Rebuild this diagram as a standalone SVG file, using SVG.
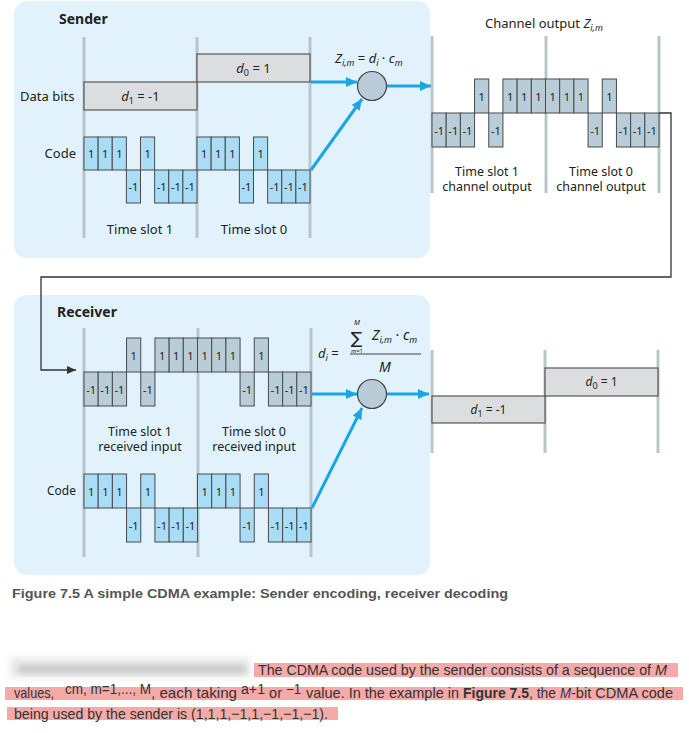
<svg xmlns="http://www.w3.org/2000/svg" width="689" height="733" viewBox="0 0 689 733">
<style>
.panel{fill:#e1f2fc}
.vl{stroke:#bac4cb;stroke-width:3}
.chip{fill:#a9dcf5;stroke:#4a4a4a;stroke-width:1}
.gchip{fill:#b8cdd8;stroke:#4a4a4a;stroke-width:1}
.dbox{fill:#dcdddf;stroke:#555;stroke-width:1.2}
.cl{font-family:"Noto Sans","Open Sans",sans-serif;font-size:11px;text-anchor:middle;fill:#222}
.lb{font-family:"Noto Sans","Open Sans",sans-serif;font-size:13px;fill:#222}
.lbm{font-family:"Noto Sans","Open Sans",sans-serif;font-size:13px;fill:#222;text-anchor:middle}
.ts{font-family:"Noto Sans","Open Sans",sans-serif;font-size:12.5px;fill:#222;text-anchor:middle}
.ttl{font-family:"Noto Sans","Open Sans",sans-serif;font-size:14px;font-weight:bold;fill:#222}
.it{font-style:italic}
.sub{font-size:9px}
.blue{stroke:#1aa6e6;stroke-width:3;fill:none}
.body{font-family:"Liberation Sans",Arial,sans-serif;font-size:15px;fill:#333}
.sup{font-family:"Liberation Sans",Arial,sans-serif;font-size:14px;fill:#333}
.hl{fill:#f6a9a9}
</style>
<defs>
<marker id="ab" markerUnits="userSpaceOnUse" markerWidth="11" markerHeight="10" refX="11" refY="5" orient="auto">
<path d="M0,0 L11,5 L0,10 z" fill="#1aa6e6"/>
</marker>
<marker id="ak" markerUnits="userSpaceOnUse" markerWidth="9" markerHeight="8" refX="9" refY="4" orient="auto">
<path d="M0,0 L9,4 L0,8 z" fill="#333"/>
</marker>
<filter id="bl" x="-10%" y="-50%" width="120%" height="200%"><feGaussianBlur stdDeviation="3"/></filter>
</defs>

<g id="sender">
<rect class="panel" x="14" y="1" width="416" height="257" rx="13"/>
<text class="ttl" x="59" y="24">Sender</text>
<line class="vl" x1="84" y1="37" x2="84" y2="238"/>
<line class="vl" x1="197" y1="37" x2="197" y2="238"/>
<line class="vl" x1="310" y1="37" x2="310" y2="238"/>
<text class="lb" x="20" y="101">Data bits</text>
<rect class="dbox" x="84" y="82" width="113" height="28"/>
<text class="lbm" x="140.5" y="101"><tspan class="it">d</tspan><tspan class="sub" dy="3">1</tspan><tspan dy="-3"> = -1</tspan></text>
<rect class="dbox" x="197" y="54" width="113" height="28"/>
<text class="lbm" x="253.5" y="73"><tspan class="it">d</tspan><tspan class="sub" dy="3">0</tspan><tspan dy="-3"> = 1</tspan></text>
<text class="lb" x="76" y="158" text-anchor="end">Code</text>
<rect class="chip" x="84" y="137" width="14.125" height="33"/>
<rect class="chip" x="98.125" y="137" width="14.125" height="33"/>
<rect class="chip" x="112.25" y="137" width="14.125" height="33"/>
<rect class="chip" x="126.375" y="170" width="14.125" height="33"/>
<rect class="chip" x="140.5" y="137" width="14.125" height="33"/>
<rect class="chip" x="154.625" y="170" width="14.125" height="33"/>
<rect class="chip" x="168.75" y="170" width="14.125" height="33"/>
<rect class="chip" x="182.875" y="170" width="14.125" height="33"/>
<rect class="chip" x="197" y="137" width="14.125" height="33"/>
<rect class="chip" x="211.125" y="137" width="14.125" height="33"/>
<rect class="chip" x="225.25" y="137" width="14.125" height="33"/>
<rect class="chip" x="239.375" y="170" width="14.125" height="33"/>
<rect class="chip" x="253.5" y="137" width="14.125" height="33"/>
<rect class="chip" x="267.625" y="170" width="14.125" height="33"/>
<rect class="chip" x="281.75" y="170" width="14.125" height="33"/>
<rect class="chip" x="295.875" y="170" width="14.125" height="33"/>
<text class="cl" x="91.06" y="158">1</text>
<text class="cl" x="105.19" y="158">1</text>
<text class="cl" x="119.31" y="158">1</text>
<text class="cl" x="133.44" y="191">-1</text>
<text class="cl" x="147.56" y="158">1</text>
<text class="cl" x="161.69" y="191">-1</text>
<text class="cl" x="175.81" y="191">-1</text>
<text class="cl" x="189.94" y="191">-1</text>
<text class="cl" x="204.06" y="158">1</text>
<text class="cl" x="218.19" y="158">1</text>
<text class="cl" x="232.31" y="158">1</text>
<text class="cl" x="246.44" y="191">-1</text>
<text class="cl" x="260.56" y="158">1</text>
<text class="cl" x="274.69" y="191">-1</text>
<text class="cl" x="288.81" y="191">-1</text>
<text class="cl" x="302.94" y="191">-1</text>
<text class="lbm" x="140" y="234">Time slot 1</text>
<text class="lbm" x="254" y="234">Time slot 0</text>
<text class="lb" x="335" y="63"><tspan class="it">Z</tspan><tspan class="sub it" dy="3">i,m</tspan><tspan dy="-3"> = </tspan><tspan class="it">d</tspan><tspan class="sub it" dy="3">i</tspan><tspan dy="-3"> · </tspan><tspan class="it">c</tspan><tspan class="sub it" dy="3">m</tspan></text>
<circle cx="372" cy="86" r="14.5" fill="#b8cdd8" stroke="#444" stroke-width="1.2"/>
</g>

<g id="channel-output">
<text class="lb" x="485" y="28">Channel output <tspan class="it">Z</tspan><tspan class="sub it" dy="3">i,m</tspan></text>
<line class="vl" x1="432" y1="36" x2="432" y2="193"/>
<line class="vl" x1="546" y1="36" x2="546" y2="193"/>
<line class="vl" x1="659" y1="36" x2="659" y2="193"/>
<rect class="gchip" x="432" y="113" width="14.19" height="34"/>
<rect class="gchip" x="446.19" y="113" width="14.19" height="34"/>
<rect class="gchip" x="460.38" y="113" width="14.19" height="34"/>
<rect class="gchip" x="474.56" y="79" width="14.19" height="34"/>
<rect class="gchip" x="488.75" y="113" width="14.19" height="34"/>
<rect class="gchip" x="502.94" y="79" width="14.19" height="34"/>
<rect class="gchip" x="517.13" y="79" width="14.19" height="34"/>
<rect class="gchip" x="531.31" y="79" width="14.19" height="34"/>
<rect class="gchip" x="545.5" y="79" width="14.19" height="34"/>
<rect class="gchip" x="559.69" y="79" width="14.19" height="34"/>
<rect class="gchip" x="573.88" y="79" width="14.19" height="34"/>
<rect class="gchip" x="588.06" y="113" width="14.19" height="34"/>
<rect class="gchip" x="602.25" y="79" width="14.19" height="34"/>
<rect class="gchip" x="616.44" y="113" width="14.19" height="34"/>
<rect class="gchip" x="630.63" y="113" width="14.19" height="34"/>
<rect class="gchip" x="644.81" y="113" width="14.19" height="34"/>
<text class="cl" x="439.09" y="134.5">-1</text>
<text class="cl" x="453.28" y="134.5">-1</text>
<text class="cl" x="467.47" y="134.5">-1</text>
<text class="cl" x="481.66" y="100.5">1</text>
<text class="cl" x="495.84" y="134.5">-1</text>
<text class="cl" x="510.03" y="100.5">1</text>
<text class="cl" x="524.22" y="100.5">1</text>
<text class="cl" x="538.41" y="100.5">1</text>
<text class="cl" x="552.59" y="100.5">1</text>
<text class="cl" x="566.78" y="100.5">1</text>
<text class="cl" x="580.97" y="100.5">1</text>
<text class="cl" x="595.16" y="134.5">-1</text>
<text class="cl" x="609.34" y="100.5">1</text>
<text class="cl" x="623.53" y="134.5">-1</text>
<text class="cl" x="637.72" y="134.5">-1</text>
<text class="cl" x="651.91" y="134.5">-1</text>
<text class="ts" x="487" y="176">Time slot 1</text>
<text class="ts" x="487" y="191">channel output</text>
<text class="ts" x="601" y="176">Time slot 0</text>
<text class="ts" x="601" y="191">channel output</text>
</g>

<g id="receiver">
<rect class="panel" x="14" y="295" width="416" height="280" rx="13"/>
<text class="ttl" x="57" y="317">Receiver</text>
<line class="vl" x1="84" y1="328" x2="84" y2="557"/>
<line class="vl" x1="198" y1="328" x2="198" y2="557"/>
<line class="vl" x1="311" y1="328" x2="311" y2="557"/>
<rect class="gchip" x="84" y="372" width="14.19" height="34"/>
<rect class="gchip" x="98.19" y="372" width="14.19" height="34"/>
<rect class="gchip" x="112.38" y="372" width="14.19" height="34"/>
<rect class="gchip" x="126.56" y="338" width="14.19" height="34"/>
<rect class="gchip" x="140.75" y="372" width="14.19" height="34"/>
<rect class="gchip" x="154.94" y="338" width="14.19" height="34"/>
<rect class="gchip" x="169.13" y="338" width="14.19" height="34"/>
<rect class="gchip" x="183.31" y="338" width="14.19" height="34"/>
<rect class="gchip" x="197.5" y="338" width="14.19" height="34"/>
<rect class="gchip" x="211.69" y="338" width="14.19" height="34"/>
<rect class="gchip" x="225.88" y="338" width="14.19" height="34"/>
<rect class="gchip" x="240.06" y="372" width="14.19" height="34"/>
<rect class="gchip" x="254.25" y="338" width="14.19" height="34"/>
<rect class="gchip" x="268.44" y="372" width="14.19" height="34"/>
<rect class="gchip" x="282.63" y="372" width="14.19" height="34"/>
<rect class="gchip" x="296.81" y="372" width="14.19" height="34"/>
<text class="cl" x="91.09" y="393.5">-1</text>
<text class="cl" x="105.28" y="393.5">-1</text>
<text class="cl" x="119.47" y="393.5">-1</text>
<text class="cl" x="133.66" y="359.5">1</text>
<text class="cl" x="147.84" y="393.5">-1</text>
<text class="cl" x="162.03" y="359.5">1</text>
<text class="cl" x="176.22" y="359.5">1</text>
<text class="cl" x="190.41" y="359.5">1</text>
<text class="cl" x="204.59" y="359.5">1</text>
<text class="cl" x="218.78" y="359.5">1</text>
<text class="cl" x="232.97" y="359.5">1</text>
<text class="cl" x="247.16" y="393.5">-1</text>
<text class="cl" x="261.34" y="359.5">1</text>
<text class="cl" x="275.53" y="393.5">-1</text>
<text class="cl" x="289.72" y="393.5">-1</text>
<text class="cl" x="303.91" y="393.5">-1</text>
<text class="ts" x="140" y="436">Time slot 1</text>
<text class="ts" x="140" y="451">received input</text>
<text class="ts" x="254" y="436">Time slot 0</text>
<text class="ts" x="254" y="451">received input</text>
<text class="lb" x="76" y="495" text-anchor="end" style="font-size:12px">Code</text>
<rect class="chip" x="84" y="474" width="14.19" height="34"/>
<rect class="chip" x="98.19" y="474" width="14.19" height="34"/>
<rect class="chip" x="112.38" y="474" width="14.19" height="34"/>
<rect class="chip" x="126.56" y="508" width="14.19" height="34"/>
<rect class="chip" x="140.75" y="474" width="14.19" height="34"/>
<rect class="chip" x="154.94" y="508" width="14.19" height="34"/>
<rect class="chip" x="169.13" y="508" width="14.19" height="34"/>
<rect class="chip" x="183.31" y="508" width="14.19" height="34"/>
<rect class="chip" x="197.5" y="474" width="14.19" height="34"/>
<rect class="chip" x="211.69" y="474" width="14.19" height="34"/>
<rect class="chip" x="225.88" y="474" width="14.19" height="34"/>
<rect class="chip" x="240.06" y="508" width="14.19" height="34"/>
<rect class="chip" x="254.25" y="474" width="14.19" height="34"/>
<rect class="chip" x="268.44" y="508" width="14.19" height="34"/>
<rect class="chip" x="282.63" y="508" width="14.19" height="34"/>
<rect class="chip" x="296.81" y="508" width="14.19" height="34"/>
<text class="cl" x="91.09" y="496">1</text>
<text class="cl" x="105.28" y="496">1</text>
<text class="cl" x="119.47" y="496">1</text>
<text class="cl" x="133.66" y="530">-1</text>
<text class="cl" x="147.84" y="496">1</text>
<text class="cl" x="162.03" y="530">-1</text>
<text class="cl" x="176.22" y="530">-1</text>
<text class="cl" x="190.41" y="530">-1</text>
<text class="cl" x="204.59" y="496">1</text>
<text class="cl" x="218.78" y="496">1</text>
<text class="cl" x="232.97" y="496">1</text>
<text class="cl" x="247.16" y="530">-1</text>
<text class="cl" x="261.34" y="496">1</text>
<text class="cl" x="275.53" y="530">-1</text>
<text class="cl" x="289.72" y="530">-1</text>
<text class="cl" x="303.91" y="530">-1</text>
<text class="lb" x="318" y="358"><tspan class="it">d</tspan><tspan class="sub it" dy="3">i</tspan><tspan dy="-3"> =</tspan></text>
<line x1="350" y1="354" x2="421" y2="354" stroke="#444" stroke-width="1"/>
<text x="356.5" y="343.5" text-anchor="middle" font-family="DejaVu Sans, sans-serif" font-size="17" fill="#222">∑</text>
<text class="it" x="357" y="325" text-anchor="middle" font-family="Noto Sans, sans-serif" font-size="7" fill="#222">M</text>
<text x="357" y="352.5" text-anchor="middle" font-family="Noto Sans, sans-serif" font-size="6" fill="#222"><tspan class="it">m</tspan>=1</text>
<text class="lb" x="372" y="340" style="font-size:14px"><tspan class="it">Z</tspan><tspan class="sub it" dy="3">i,m</tspan><tspan dy="-3"> · </tspan><tspan class="it">c</tspan><tspan class="sub it" dy="3">m</tspan></text>
<text class="lbm it" x="385" y="372" style="font-size:14px">M</text>
<circle cx="372" cy="394" r="14.5" fill="#b8cdd8" stroke="#444" stroke-width="1.2"/>
</g>

<g id="decoded-output">
<line class="vl" x1="432" y1="350" x2="432" y2="453"/>
<line class="vl" x1="545" y1="350" x2="545" y2="453"/>
<line class="vl" x1="658" y1="350" x2="658" y2="453"/>
<rect class="dbox" x="432" y="396" width="113" height="27"/>
<text class="lbm" x="488.5" y="414" style="font-size:12px"><tspan class="it">d</tspan><tspan class="sub" dy="3">1</tspan><tspan dy="-3"> = -1</tspan></text>
<rect class="dbox" x="545" y="368" width="113" height="28"/>
<text class="lbm" x="601.5" y="386" style="font-size:12px"><tspan class="it">d</tspan><tspan class="sub" dy="3">0</tspan><tspan dy="-3"> = 1</tspan></text>
</g>

<g id="connectors">
<line class="blue" x1="311" y1="82" x2="357" y2="82" marker-end="url(#ab)"/>
<line class="blue" x1="311" y1="170" x2="362" y2="99" marker-end="url(#ab)"/>
<line class="blue" x1="387" y1="86" x2="431" y2="86" marker-end="url(#ab)"/>
<polyline points="659,113 671,113 671,277 41,277 41,370 76,370" fill="none" stroke="#333" stroke-width="1.3" marker-end="url(#ak)"/>
<line class="blue" x1="312" y1="394" x2="357" y2="394" marker-end="url(#ab)"/>
<line class="blue" x1="312" y1="508" x2="362" y2="408" marker-end="url(#ab)"/>
<line class="blue" x1="387" y1="394" x2="429" y2="394" marker-end="url(#ab)"/>
</g>

<g id="caption">
<text x="12" y="598" font-family="Liberation Sans, Arial, sans-serif" font-size="13" font-weight="bold" fill="#555" textLength="496" lengthAdjust="spacingAndGlyphs">Figure 7.5 A simple CDMA example: Sender encoding, receiver decoding</text>
</g>

<g id="body-text">
<rect x="10" y="657" width="240" height="21" fill="#ebebeb" filter="url(#bl)"/>
<rect x="18" y="665" width="228" height="8" fill="#c6c6c6" filter="url(#bl)"/>
<rect class="hl" x="254" y="663" width="424" height="14"/>
<rect class="hl" x="5" y="687" width="678" height="13"/>
<rect class="hl" x="7" y="707" width="331" height="13"/>
<text class="body" x="258" y="674.5" textLength="393" lengthAdjust="spacingAndGlyphs">The CDMA code used by the sender consists of a sequence of</text>
<text class="body" x="655" y="674.5" font-style="italic" textLength="12" lengthAdjust="spacingAndGlyphs">M</text>
<text class="body" x="14" y="698" textLength="40" lengthAdjust="spacingAndGlyphs">values,</text>
<text class="sup" x="65" y="694" textLength="86" lengthAdjust="spacingAndGlyphs">cm, m=1,..., M</text>
<text class="body" x="151" y="698" textLength="86" lengthAdjust="spacingAndGlyphs">, each taking</text>
<text class="sup" x="241" y="694" textLength="24" lengthAdjust="spacingAndGlyphs">a+1</text>
<text class="body" x="269" y="698" textLength="13" lengthAdjust="spacingAndGlyphs">or</text>
<text class="sup" x="286" y="694" textLength="15" lengthAdjust="spacingAndGlyphs">−1</text>
<text class="body" x="306" y="698" textLength="153" lengthAdjust="spacingAndGlyphs">value. In the example in</text>
<text class="body" x="463" y="698" font-weight="bold" fill="#1f5a94" textLength="66" lengthAdjust="spacingAndGlyphs">Figure 7.5</text>
<text class="body" x="529" y="698" textLength="27" lengthAdjust="spacingAndGlyphs">, the</text>
<text class="body" x="560" y="698" font-style="italic" textLength="11" lengthAdjust="spacingAndGlyphs">M</text>
<text class="body" x="571" y="698" textLength="102" lengthAdjust="spacingAndGlyphs">-bit CDMA code</text>
<text class="body" x="14" y="718.5" textLength="314" lengthAdjust="spacingAndGlyphs">being used by the sender is (1,1,1,−1,1,−1,−1,−1).</text>
</g>
</svg>
